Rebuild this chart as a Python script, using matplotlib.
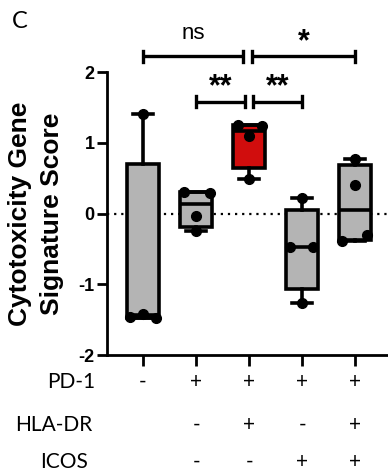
import numpy as np
import matplotlib
matplotlib.use("Agg")
import matplotlib.pyplot as plt
import matplotlib.transforms as mtransforms

# data (4 samples per group)
groups = ["PD1-", "PD1+ HLA-DR- ICOS-", "PD1+ HLA-DR+ ICOS-", "PD1+ HLA-DR- ICOS+", "PD1+ HLA-DR+ ICOS+"]
scores = [
    [1.41, -1.42, -1.46, -1.48],
    [0.31, 0.29, -0.03, -0.25],
    [1.25, 1.24, 1.10, 0.49],
    [0.22, -0.47, -0.47, -1.27],
    [0.77, 0.41, -0.30, -0.39],
]
# horizontal spread of overlapping dots (as the scatter in the reference)
spread = [
    [0, 0, -0.25, 0.25],
    [-0.23, 0.26, 0, 0],
    [-0.2, 0.24, 0, 0],
    [0, -0.23, 0.21, 0],
    [0, 0, 0.23, -0.24],
]
box_colors = ["#b4b4b4", "#b4b4b4", "#d10d0d", "#b4b4b4", "#b4b4b4"]

row_names = ["PD-1", "HLA-DR", "ICOS"]
row_signs = [
    ["-", "+", "+", "+", "+"],
    ["", "-", "+", "-", "+"],
    ["", "-", "-", "+", "+"],
]

# significance brackets: (x start, x end, y level, label)
brackets = [
    (0.0, 1.88, 2.22, "ns"),
    (2.05, 4.0, 2.22, "*"),
    (1.0, 1.92, 1.58, "**"),
    (2.08, 3.0, 1.58, "**"),
]


def pct(vals, p):
    # percentile as prism does it: position p*(n+1)
    s = sorted(vals)
    n = len(s)
    pos = p * (n + 1) - 1
    lo = int(np.floor(pos))
    lo = max(0, min(lo, n - 2))
    frac = pos - lo
    frac = max(0.0, min(frac, 1.0))
    return s[lo] + frac * (s[lo + 1] - s[lo])


stats = []
for v in scores:
    stats.append(dict(med=float(np.median(v)), q1=pct(v, 0.25), q3=pct(v, 0.75),
                      whislo=min(v), whishi=max(v), fliers=[]))

fig = plt.figure(figsize=(3.88, 4.76), dpi=100)
ax = fig.add_axes([0.2758, 0.2542, 0.7242, 0.5945])

x = np.arange(len(groups))
ax.axhline(0, color="black", lw=1.6, ls=(0, (1, 2.2)), zorder=1)

bp = ax.bxp(stats, positions=x, widths=0.6, patch_artist=True, showfliers=False,
            boxprops=dict(lw=2.6, edgecolor="black"),
            medianprops=dict(color="black", lw=2.6),
            whiskerprops=dict(color="black", lw=2.6),
            capprops=dict(color="black", lw=2.6), capwidths=0.38)
for patch, c in zip(bp["boxes"], box_colors):
    patch.set_facecolor(c)
    patch.set_zorder(2)

for i, v in enumerate(scores):
    ax.plot(x[i] + np.array(spread[i]), v, "o", color="black", ms=7, zorder=4)

ax.set_xlim(-0.68, 4.62)
ax.set_ylim(-2, 2)
ax.set_yticks([-2, -1, 0, 1, 2])
ax.set_yticklabels(["-2", "-1", "0", "1", "2"], fontfamily="Liberation Sans",
                   fontweight="bold", fontsize=13)
ax.set_xticks(x)
ax.set_xticklabels([""] * len(x))
ax.tick_params(axis="y", width=2, length=7, pad=2)
ax.tick_params(axis="x", width=2, length=8)
for side in ["top", "right"]:
    ax.spines[side].set_visible(False)
for side in ["left", "bottom"]:
    ax.spines[side].set_linewidth(2)

ax.set_ylabel("Cytotoxicity Gene\nSignature Score", fontfamily="Liberation Sans",
              fontweight="bold", fontsize=19, labelpad=10, linespacing=1.45)

# brackets
for x0, x1, yb, lab in brackets:
    ax.plot([x0, x1], [yb, yb], color="black", lw=2.4, clip_on=False, solid_capstyle="butt")
    for xe in (x0, x1):
        ax.plot([xe, xe], [yb - 0.08, yb + 0.08], color="black", lw=2.4, clip_on=False)
    if lab == "ns":
        ax.text((x0 + x1) / 2, yb + 0.17, lab, ha="center", va="bottom",
                fontfamily="Liberation Sans", fontsize=16)
    else:
        ax.text((x0 + x1) / 2, yb - 0.01, lab, ha="center", va="bottom",
                fontfamily="Liberation Sans", fontweight="bold", fontsize=22)

# table of markers below the axis
trans = mtransforms.blended_transform_factory(ax.transData, fig.transFigure)
row_y = [1 - 382 / 476, 1 - 425 / 476, 1 - 462 / 476]
row_x = [47 / 388, 15 / 388, 40 / 388]
for name, signs, yy, xx in zip(row_names, row_signs, row_y, row_x):
    fig.text(xx, yy, name, ha="left", va="center", fontfamily="Lato", fontsize=15)
    for i, s in enumerate(signs):
        ax.text(x[i], yy, s, transform=trans, ha="center", va="center",
                fontfamily="Lato", fontsize=15, clip_on=False)

fig.text(12 / 388, 1 - 22 / 476, "C", ha="left", va="center", fontfamily="Lato", fontsize=17)

fig.savefig("out.png", dpi=100)
